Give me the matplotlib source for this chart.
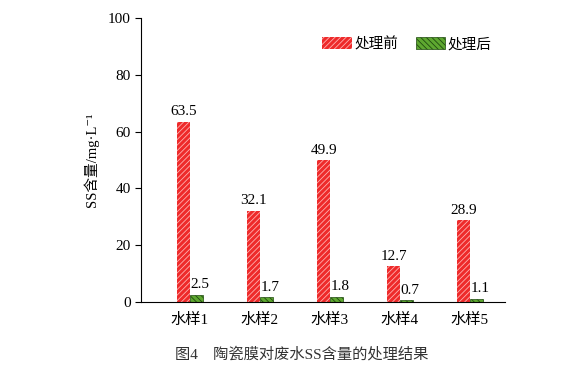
import matplotlib
matplotlib.use("Agg")
import matplotlib.pyplot as plt
import numpy as np

plt.rcParams['font.family'] = ['Liberation Serif', 'Noto Sans CJK SC', 'DejaVu Serif']
plt.rcParams['hatch.linewidth'] = 0.6

categories = ['水样1', '水样2', '水样3', '水样4', '水样5']
before = [63.5, 32.1, 49.9, 12.7, 28.9]
after = [2.5, 1.7, 1.8, 0.7, 1.1]
series_names = ['处理前', '处理后']
yticks = [0, 20, 40, 60, 80, 100]

fig = plt.figure(figsize=(5.69, 3.78), dpi=100)
ax = fig.add_axes([0.2478, 0.2011, 0.6397, 0.7513])

x = np.arange(len(categories))
w = 0.18
b1 = ax.bar(x - w / 2 - 0.005, before, w, color='#ee2a2a', edgecolor='#ffb0b0',
            hatch='//////', linewidth=0, label=series_names[0])
b2 = ax.bar(x + w / 2 + 0.005, after, w, color='#5ea830', edgecolor='#1f4a10',
            hatch='\\\\\\\\\\\\', linewidth=0.5, label=series_names[1])

for xi, v in zip(x - w / 2, before):
    ax.text(xi, v + 1.2, f'{v:.1f}', ha='center', va='bottom', fontsize=11)
for xi, v in zip(x + w / 2, after):
    ax.text(xi + 0.05, v + 1.2, f'{v:.1f}', ha='center', va='bottom', fontsize=11)

ax.set_xlim(-0.7, 4.5)
ax.set_ylim(0, 100)
ax.set_yticks(yticks)
ax.set_xticks(x)
ax.set_xticklabels(categories, fontsize=11)
ax.tick_params(axis='x', length=0, pad=8)
ax.tick_params(axis='y', direction='out', length=4, labelsize=11, width=0.8)
for s in ['top', 'right']:
    ax.spines[s].set_visible(False)
for s in ['left', 'bottom']:
    ax.spines[s].set_linewidth(0.8)

ax.set_ylabel('SS含量/mg·L⁻¹', fontsize=10.5, labelpad=6)

ax.legend(ncol=2, frameon=False, loc='upper right', bbox_to_anchor=(1.0, 0.98),
          fontsize=10.5, handlelength=2.0, handleheight=0.9, columnspacing=1.2,
          handletextpad=0.2)

fig.text(0.53, 0.062, '图4　陶瓷膜对废水SS含量的处理结果', ha='center', va='center',
         fontsize=11, color='#333333')

fig.savefig('out.png', dpi=100)
